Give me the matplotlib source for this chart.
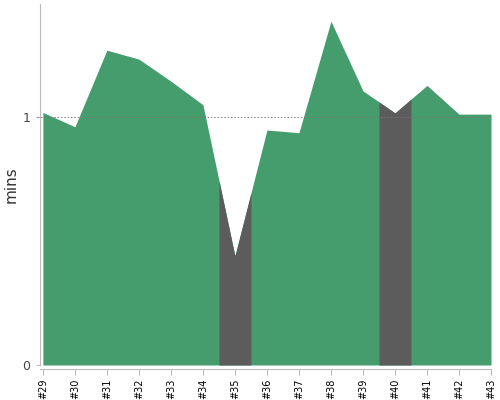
import numpy as np
import matplotlib
matplotlib.use("Agg")
import matplotlib.pyplot as plt

# build numbers and durations (minutes)
builds = ['#29', '#30', '#31', '#32', '#33', '#34', '#35', '#36',
          '#37', '#38', '#39', '#40', '#41', '#42', '#43']
durations = [1.019, 0.961, 1.270, 1.234, 1.145, 1.050, 0.440, 0.948,
             0.937, 1.387, 1.106, 1.017, 1.128, 1.012, 1.012]
# build status: True = success, False = failed
passed = [True, True, True, True, True, True, False, True,
          True, True, True, False, True, True, True]

GREEN = '#459d6d'
GREY = '#5c5c5c'
AXIS = '#bbbbbb'

fig = plt.figure(figsize=(5, 4), dpi=100)
ax = fig.add_axes([0.08, 0.0875, 0.902, 0.9025])

# spine offset first, it resets the ticks
for side in ['top', 'right']:
    ax.spines[side].set_visible(False)
ax.spines['left'].set_color(AXIS)
ax.spines['bottom'].set_color(AXIS)
ax.spines['bottom'].set_position(('outward', 3))

x = np.arange(len(builds))
y = np.array(durations)

# whole area green, then failed builds painted over their half-steps
ax.fill_between(x, 0, y, color=GREEN, linewidth=0)
for i, ok in enumerate(passed):
    if ok:
        continue
    lo = max(i - 0.5, 0)
    hi = min(i + 0.5, len(builds) - 1)
    xs = np.linspace(lo, hi, 50)
    ys = np.interp(xs, x, y)
    ax.fill_between(xs, 0, ys, color=GREY, linewidth=0)

ax.axhline(1, color='#777777', linestyle=(0, (2, 2)), linewidth=0.6,
           xmin=-0.007, clip_on=False)

ax.set_xlim(-0.09, len(builds) - 1)
ax.set_ylim(0, max(durations) * 1.05)

ax.set_xticks(x)
ax.set_xticklabels(builds, rotation=90, fontsize=7, color='black')
ax.set_yticks([0, 1])
ax.set_yticklabels(['0', '1'], fontsize=9, color='#444444')
ax.set_ylabel('mins', fontsize=11, color='#333333')
ax.yaxis.set_label_coords(-0.047, 0.5)

ax.tick_params(axis='x', colors=AXIS, labelcolor='black', length=4, pad=3)
ax.tick_params(axis='y', colors=AXIS, labelcolor='#444444', length=3, pad=4)

fig.savefig('out.png', dpi=100)
